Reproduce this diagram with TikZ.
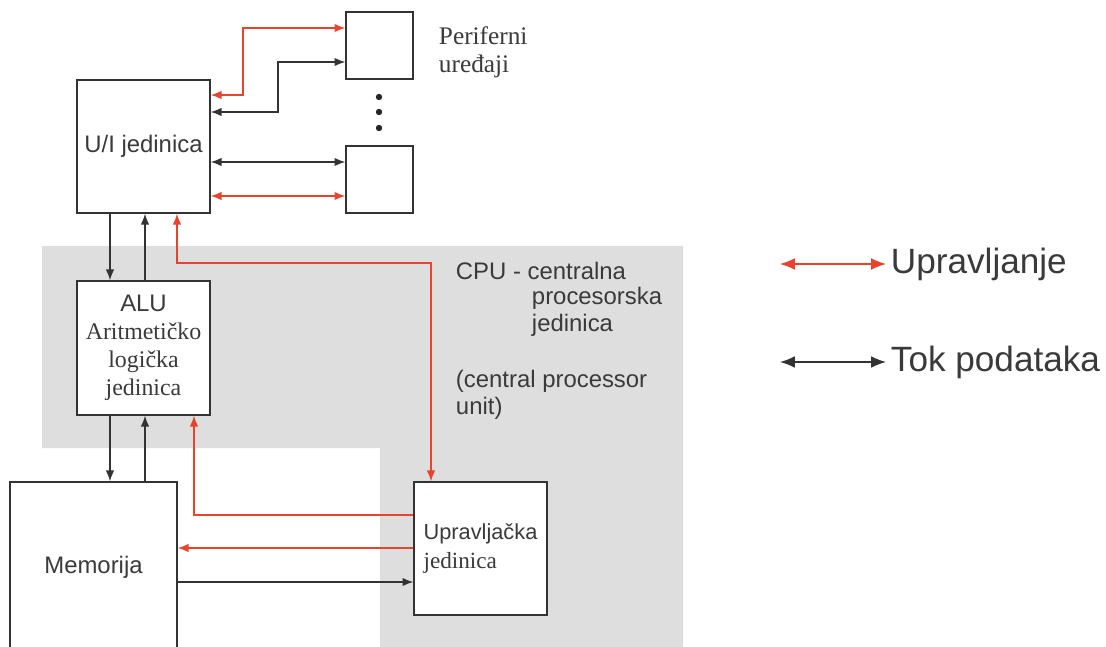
\documentclass[tikz,border=0pt]{standalone}
\usepackage{fontspec}
\setmainfont{Liberation Sans}
\newfontfamily\romfont{Liberation Serif}
\usetikzlibrary{arrows.meta}

\definecolor{ctlred}{HTML}{E8432D}
\definecolor{txtgray}{HTML}{3A3A3A}
\definecolor{cpugray}{HTML}{DEDEDE}

\begin{document}
\begin{tikzpicture}[x=0.25mm,y=-0.25mm,>={Latex[length=2.7mm,width=2.1mm]},
  box/.style={draw=black!80,line width=1pt,fill=white,inner sep=0pt},
  data/.style={draw=black!80,line width=0.9pt},
  ctl/.style={draw=ctlred,line width=0.9pt},
  lbl/.style={text=txtgray,font=\fontsize{17}{20}\selectfont}]
\useasboundingbox (0,0) rectangle (1106,647);

% CPU area
\fill[cpugray] (42,246) -- (683,246) -- (683,647) -- (380,647) -- (380,448) -- (42,448) -- cycle;

% units
\node[box,lbl,minimum width=33.25mm,minimum height=33.25mm] (io) at (143.5,146.5) {U/I jedinica};
\node[box,minimum width=16.75mm,minimum height=16.75mm] (per1) at (379.5,45.5) {};
\node[box,minimum width=16.75mm,minimum height=16.75mm] (per2) at (379.5,179.5) {};
\node[box,lbl,align=center,minimum width=33.25mm,minimum height=33.5mm] (alu) at (143.5,348)
  {ALU\\{\romfont Aritmetičko}\\{\romfont logička}\\{\romfont jedinica}};
\node[box,lbl,minimum width=41.75mm,minimum height=42.5mm] (mem) at (93.5,567) {Memorija};
\node[box,lbl,align=left,font=\fontsize{15.5}{20.5}\selectfont,minimum width=33.25mm,minimum height=33.25mm] (ctrl) at (480.5,548.5)
  {Upravljačka\\{\romfont\fontsize{16.5}{20.5}\selectfont jedinica}};

\foreach \y in {97,112,128}
  \fill[black!85] (379,\y) circle (0.8mm);

% data flow
\draw[data,->] (io.south -| 110,0) -- (alu.north -| 110,0);
\draw[data,->] (alu.north -| 145,0) -- (io.south -| 145,0);
\draw[data,->] (alu.south -| 110,0) -- (mem.north -| 110,0);
\draw[data,->] (mem.north -| 145,0) -- (alu.south -| 145,0);
\draw[data,->] (mem.east |- 0,582) -- (ctrl.west |- 0,582);
\draw[data,<->] (io.east |- 0,112) -- (278,112) |- (per1.west |- 0,62);
\draw[data,<->] (io.east |- 0,162) -- (per2.west |- 0,162);

% control
\draw[ctl,<->] (ctrl.north -| 431,0) -- (431,263) -| (io.south -| 177,0);
\draw[ctl,->] (ctrl.west |- 0,515) -| (alu.south -| 194,0);
\draw[ctl,->] (ctrl.west |- 0,548) -- (mem.east |- 0,548);
\draw[ctl,<->] (io.east |- 0,95) -- (243,95) |- (per1.west |- 0,28);
\draw[ctl,<->] (io.east |- 0,196) -- (per2.west |- 0,196);

% labels
\node[lbl,anchor=west,align=left,font=\romfont\fontsize{18}{20}\selectfont] (pertxt) at (434,52) {Periferni\\uređaji};
\node[lbl,anchor=west] (cpu1) at (451,271) {CPU - centralna};
\node[lbl,anchor=west] (cpu2) at (527,298) {procesorska};
\node[lbl,anchor=west] (cpu3) at (527,325) {jedinica};
\node[lbl,anchor=west] (cpu4) at (451,381) {(central processor};
\node[lbl,anchor=west] (cpu5) at (451,408) {unit)};

% legend
\node[lbl,anchor=west,font=\fontsize{25}{28}\selectfont] (legctl) at (886,264) {Upravljanje};
\node[lbl,anchor=west,font=\fontsize{25}{28}\selectfont] (legdata) at (886,362) {Tok podataka};
\coordinate (lc) at (780,264);
\coordinate (ld) at (780,362);
\draw[ctl,{Latex[length=3.7mm,width=2.9mm]}-{Latex[length=3.7mm,width=2.9mm]}] (lc) -- (legctl.west);
\draw[data,{Latex[length=3.7mm,width=2.9mm]}-{Latex[length=3.7mm,width=2.9mm]}] (ld) -- (legdata.west);
\end{tikzpicture}
\end{document}
